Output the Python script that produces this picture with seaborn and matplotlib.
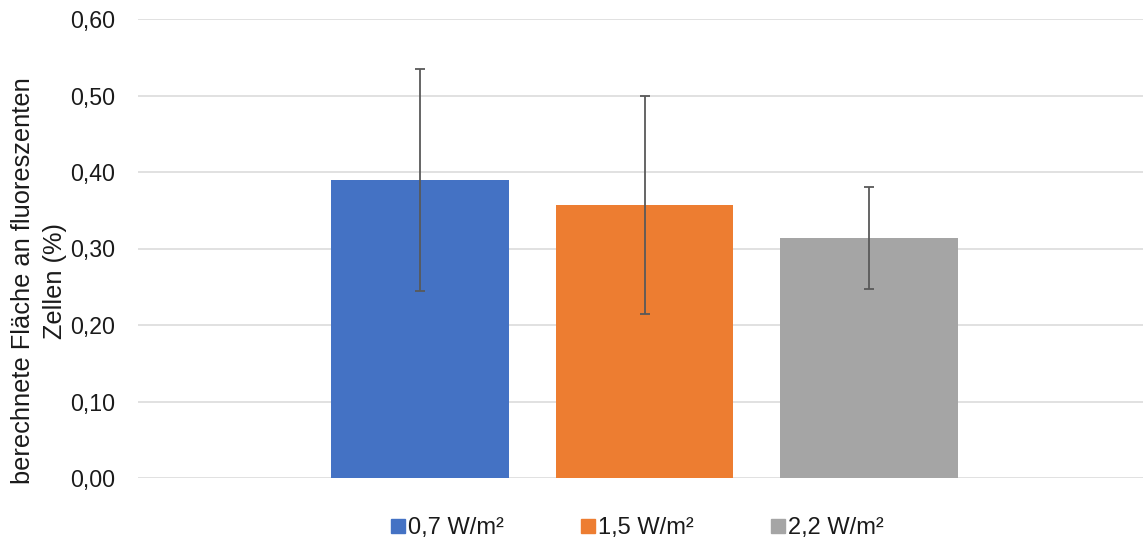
import numpy as np
import pandas as pd
import seaborn as sns
import matplotlib.pyplot as plt
from matplotlib.lines import Line2D
from matplotlib.ticker import FuncFormatter

# values
intensities = ["0,7 W/m²", "1,5 W/m²", "2,2 W/m²"]
mean_area = [0.389, 0.357, 0.314]
std_area = [0.145, 0.142, 0.067]
colors = ["#4472C4", "#ED7D31", "#A5A5A5"]

df = pd.DataFrame(dict(group=[""] * 3, intensity=intensities, area=mean_area))

sns.set_theme(style="white")
plt.rcParams["font.family"] = ["Liberation Sans", "DejaVu Sans"]

fig = plt.figure(figsize=(11.43, 5.42), dpi=100)
ax = fig.add_axes([138 / 1143, 64 / 542, 1005 / 1143, 459 / 542])

sns.barplot(data=df, x="group", y="area", hue="intensity", hue_order=intensities,
            palette=colors, width=0.67, gap=0.21, errorbar=None, legend=False,
            saturation=1, zorder=2, linewidth=0, ax=ax)

# error bars at the bar centres
bars = ax.patches[:3]
xs = [b.get_x() + b.get_width() / 2 for b in bars]
ax.errorbar(xs, mean_area, yerr=std_area, fmt="none", ecolor="#595959",
            elinewidth=1.3, capsize=3.5, capthick=1.3, zorder=3)

ax.set_xlim(-0.504, 0.496)
ax.set_ylim(0, 0.6)
ax.set_yticks(np.arange(0, 0.61, 0.1))
ax.yaxis.set_major_formatter(FuncFormatter(lambda v, p: f"{v:.2f}".replace(".", ",")))
ax.set_xticks([])
ax.set_xlabel("")
ax.grid(axis="y", color="#D9D9D9", linewidth=1.1, zorder=0)
ax.set_axisbelow(True)
sns.despine(ax=ax, left=True, bottom=True)
ax.tick_params(axis="y", length=0, pad=16.5, labelsize=16.7, labelcolor="#1a1a1a")

ax.set_ylabel("berechnete Fläche an fluoreszenten\nZellen (%)", fontsize=18.3,
              color="#1a1a1a", linespacing=1.4)
ax.yaxis.set_label_coords(-0.071, 0.429)

handles = [Line2D([], [], marker="s", linestyle="none", markersize=10,
                  markerfacecolor=c, markeredgecolor=c) for c in colors]
fig.legend(handles, intensities, loc="center", bbox_to_anchor=(637 / 1143, 14 / 542),
           ncol=3, frameon=False, fontsize=17, handlelength=0.6, handletextpad=0.13,
           columnspacing=3.26, labelcolor="#1a1a1a")

fig.savefig("out.png", dpi=100)
